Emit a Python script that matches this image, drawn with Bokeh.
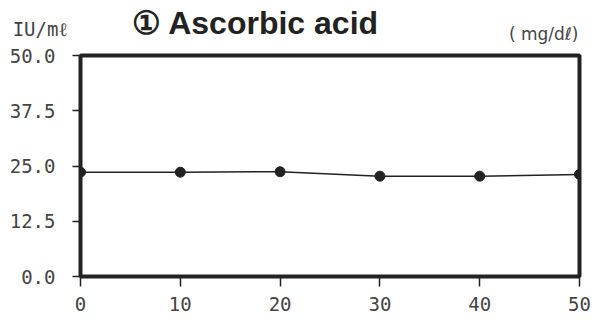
from bokeh.plotting import figure
from bokeh.models import Range1d, FixedTicker
from bokeh.layouts import column
from bokeh.core.properties import value
from bokeh.embed import file_html
from bokeh.resources import INLINE

conc = [0, 10, 20, 30, 40, 50]
activity = [23.6, 23.6, 23.7, 22.7, 22.7, 23.1]
x_ticks = [0, 10, 20, 30, 40, 50]
y_ticks = [0.0, 12.5, 25.0, 37.5, 50.0]
title_text = "① Ascorbic acid"
y_unit = "IU/mℓ"
x_unit = "( mg/dℓ)"

W, H = 593, 321
TOP_H = 44
FL, FR = 80, 579   # frame left / right (page px)
FT, FB = 55, 276   # frame top / bottom (page px)

# --- header strip: pixel coordinates, y downward ---
head = figure(width=W, height=TOP_H, output_backend="svg", toolbar_location=None,
              x_range=Range1d(FL, FR), y_range=Range1d(TOP_H, 0),
              x_axis_type=None, min_border_top=0, min_border_bottom=0,
              min_border_left=FL, min_border_right=W - FR)
head.grid.visible = False
head.outline_line_color = None
ya = head.yaxis[0]
ya.ticker = FixedTicker(ticks=[28])
ya.major_label_overrides = {28: y_unit}
ya.axis_line_color = None
ya.major_tick_line_color = None
ya.minor_tick_line_color = None
ya.major_tick_in = 0
ya.major_tick_out = 0
ya.major_label_standoff = 13
ya.major_label_text_font = "DejaVu Sans Mono"
ya.major_label_text_font_size = "19px"
ya.major_label_text_color = "#444444"

head.text(x=[131], y=[22], text=[title_text], text_font=value("Liberation Sans"),
          text_font_style="bold", text_font_size="32px", text_color="#222222",
          text_baseline="middle", text_align="left")
head.text(x=[578], y=[33], text=[x_unit], text_font=value("DejaVu Sans"),
          text_font_size="17px", text_color="#444444",
          text_baseline="middle", text_align="right")

# --- main chart ---
p = figure(width=W, height=H - TOP_H, output_backend="svg", toolbar_location=None,
           x_range=Range1d(0, 50), y_range=Range1d(0, 50),
           min_border_left=FL, min_border_right=W - FR, min_border_top=FT - TOP_H,
           min_border_bottom=H - FB)
p.grid.visible = False
p.outline_line_color = "#222222"
p.outline_line_width = 4
p.background_fill_color = "white"
p.border_fill_color = "white"

for ax in (p.xaxis[0], p.yaxis[0]):
    ax.axis_line_color = None
    ax.major_tick_line_color = "#222222"
    ax.major_tick_line_width = 1.5
    ax.major_tick_in = 0
    ax.minor_tick_line_color = None
    ax.major_label_text_font = "DejaVu Sans Mono"
    ax.major_label_text_font_size = "19px"
    ax.major_label_text_color = "#444444"
p.xaxis.major_tick_out = 10
p.yaxis.major_tick_out = 8

p.xaxis.ticker = FixedTicker(ticks=x_ticks)
p.yaxis.ticker = FixedTicker(ticks=y_ticks)
p.yaxis.major_label_overrides = {t: f"{t:.1f}" for t in y_ticks}
p.xaxis.major_label_standoff = 10
p.yaxis.major_label_standoff = 17

p.line(conc, activity, line_color="#222222", line_width=1.5)
p.scatter(conc, activity, size=10, fill_color="#222222", line_color="#222222")

layout = column(head, p, spacing=0)
open("out.html", "w").write(file_html(layout, INLINE))
